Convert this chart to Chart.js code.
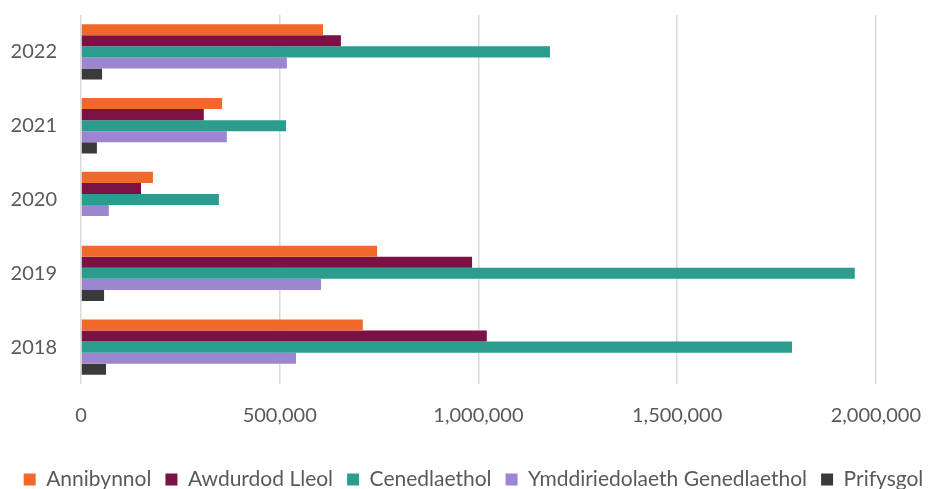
<!DOCTYPE html>
<html>
<head>
<meta charset="utf-8">
<script src="https://cdn.jsdelivr.net/npm/chart.js@4/dist/chart.umd.min.js"></script>
<style>
  html, body { margin: 0; padding: 0; background: #fff; }
  #wrap { width: 941px; height: 489px; }
</style>
</head>
<body>
<div id="wrap"><canvas id="chart" width="941" height="489"></canvas></div>
<script>
const years = ["2022", "2021", "2020", "2019", "2018"];
const annibynnol = [609000, 355000, 181000, 745000, 709000];
const awdurdodLleol = [654000, 309000, 151000, 984000, 1021000];
const cenedlaethol = [1180000, 516000, 347000, 1947000, 1789000];
const ymddiriedolaeth = [518000, 367000, 70000, 604000, 541000];
const prifysgol = [53000, 40000, 0, 58000, 63000];
const xTicks = [0, 500000, 1000000, 1500000, 2000000];

const textColor = "#595959";
const font = "Lato";

const series = [
  { label: "Annibynnol", data: annibynnol, color: "#f0692a" },
  { label: "Awdurdod Lleol", data: awdurdodLleol, color: "#7b1144" },
  { label: "Cenedlaethol", data: cenedlaethol, color: "#2a9d8f" },
  { label: "Ymddiriedolaeth Genedlaethol", data: ymddiriedolaeth, color: "#9e85d0" },
  { label: "Prifysgol", data: prifysgol, color: "#3a3a3a" }
];

new Chart(document.getElementById("chart"), {
  type: "bar",
  data: {
    labels: years,
    datasets: series.map((s) => ({
      label: s.label,
      data: s.data,
      backgroundColor: s.color,
      borderWidth: 0,
      categoryPercentage: 0.75,
      barPercentage: 1.0
    }))
  },
  options: {
    indexAxis: "y",
    responsive: false,
    animation: false,
    layout: { padding: { top: 15, right: 0, left: 6, bottom: -11 } },
    plugins: {
      tooltip: { enabled: false },
      legend: {
        position: "bottom",
        labels: {
          font: { family: font, size: 21 },
          color: textColor,
          boxWidth: 12,
          boxHeight: 12,
          padding: 14
        }
      }
    },
    scales: {
      x: {
        min: 0,
        max: 2000000,
        afterBuildTicks: (axis) => { axis.ticks = xTicks.map((v) => ({ value: v })); },
        afterFit: (axis) => { axis.height = 71; },
        grid: { color: "#d9d9d9", lineWidth: 1.5, drawTicks: false },
        border: { display: false },
        ticks: {
          font: { family: font, size: 20 },
          color: textColor,
          padding: 20,
          callback: (v) => Number(v).toLocaleString("en-US")
        }
      },
      y: {
        afterFit: (axis) => {
          axis.width = 75;
          axis.paddingTop = 0;
          axis.paddingBottom = 0;
        },
        grid: { display: false },
        border: { display: false },
        ticks: {
          font: { family: font, size: 20 },
          color: textColor,
          padding: 16
        }
      },
      // empty right-hand axis, only reserves the blank strip right of the plot
      yRight: {
        type: "category",
        position: "right",
        labels: years,
        afterFit: (axis) => {
          axis.width = 65;
          axis.paddingTop = 0;
          axis.paddingBottom = 0;
        },
        grid: { display: false },
        border: { display: false },
        ticks: { display: false }
      }
    }
  }
});
</script>
</body>
</html>
